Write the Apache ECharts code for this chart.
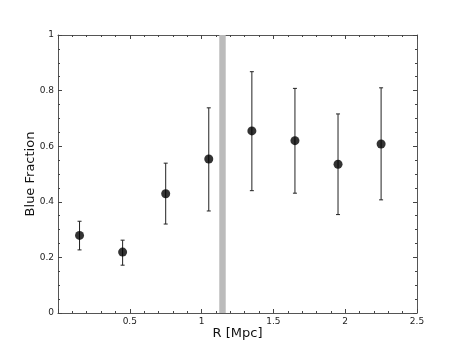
<!DOCTYPE html>
<html><head><meta charset="utf-8">
<script src="https://cdn.jsdelivr.net/npm/echarts@6/dist/echarts.min.js"></script>
<style>html,body{margin:0;padding:0;background:#fff}#c{width:463px;height:348px}</style>
</head><body><div id="c"></div>
<script>
const xs = [0.15, 0.45, 0.75, 1.05, 1.35, 1.65, 1.95, 2.25];
const fraction = [0.279, 0.219, 0.429, 0.554, 0.655, 0.620, 0.535, 0.608];
const errLow = [0.227, 0.172, 0.320, 0.367, 0.440, 0.431, 0.354, 0.407];
const errHigh = [0.330, 0.262, 0.539, 0.738, 0.868, 0.808, 0.716, 0.810];
const band = [1.123, 1.168];
const xTicks = [0.5, 1, 1.5, 2, 2.5];
const yTicks = [0, 0.2, 0.4, 0.6, 0.8, 1];

const font = 'DejaVu Sans';
const axisBase = (pos, isX, showLabel) => ({
  type: 'value', position: pos,
  min: 0, max: isX ? 2.5 : 1, interval: isX ? 0.5 : 0.2,
  axisLine: {show: true, onZero: false, lineStyle: {color: '#555', width: 1}},
  axisTick: {show: true, inside: true, length: 4, lineStyle: {color: '#444', width: 1}},
  minorTick: {show: true, splitNumber: isX ? 5 : 4, length: 2, lineStyle: {color: '#444', width: 1}},
  splitLine: {show: false},
  axisLabel: {show: showLabel, fontFamily: font, fontSize: 9, color: '#222', margin: 4,
    formatter: v => {
      const ticks = isX ? xTicks : yTicks;
      return ticks.some(t => Math.abs(t - v) < 1e-9) ? String(+v.toFixed(2)) : '';
    }},
});
const chart = echarts.init(document.getElementById('c'), null, {renderer: 'canvas'});
chart.setOption({
  animation: false,
  grid: {left: 58, top: 35, right: 46, bottom: 35},
  xAxis: [
    Object.assign(axisBase('bottom', true, true), {name: 'R [Mpc]', nameLocation: 'middle', nameGap: 14,
      nameMoveOverlap: false,
      nameTextStyle: {fontFamily: font, fontSize: 13, color: '#111'}}),
    axisBase('top', true, false)
  ],
  yAxis: [
    Object.assign(axisBase('left', false, true), {name: 'Blue Fraction', nameLocation: 'middle', nameGap: 21,
      nameMoveOverlap: false,
      nameTextStyle: {fontFamily: font, fontSize: 13, color: '#111'}}),
    axisBase('right', false, false)
  ],
  series: [
    {
      type: 'custom',
      data: xs.map((x, i) => [x, errLow[i], errHigh[i]]),
      z: 3,
      renderItem: (params, api) => {
        const lo = api.coord([api.value(0), api.value(1)]);
        const hi = api.coord([api.value(0), api.value(2)]);
        const cw = 2;
        const st = {stroke: '#222', lineWidth: 1};
        return {type: 'group', children: [
          {type: 'line', shape: {x1: lo[0], y1: lo[1], x2: hi[0], y2: hi[1]}, style: st},
          {type: 'line', shape: {x1: lo[0]-cw, y1: lo[1], x2: lo[0]+cw, y2: lo[1]}, style: st},
          {type: 'line', shape: {x1: hi[0]-cw, y1: hi[1], x2: hi[0]+cw, y2: hi[1]}, style: st}
        ]};
      },
      markArea: {silent: true, itemStyle: {color: '#bbbbbb', opacity: 1},
        data: [[{xAxis: band[0]}, {xAxis: band[1]}]]}
    },
    {
      type: 'scatter',
      data: xs.map((x, i) => [x, fraction[i]]),
      symbol: 'circle', symbolSize: 9,
      itemStyle: {color: '#000'},
      z: 4
    }
  ]
});
</script></body></html>
